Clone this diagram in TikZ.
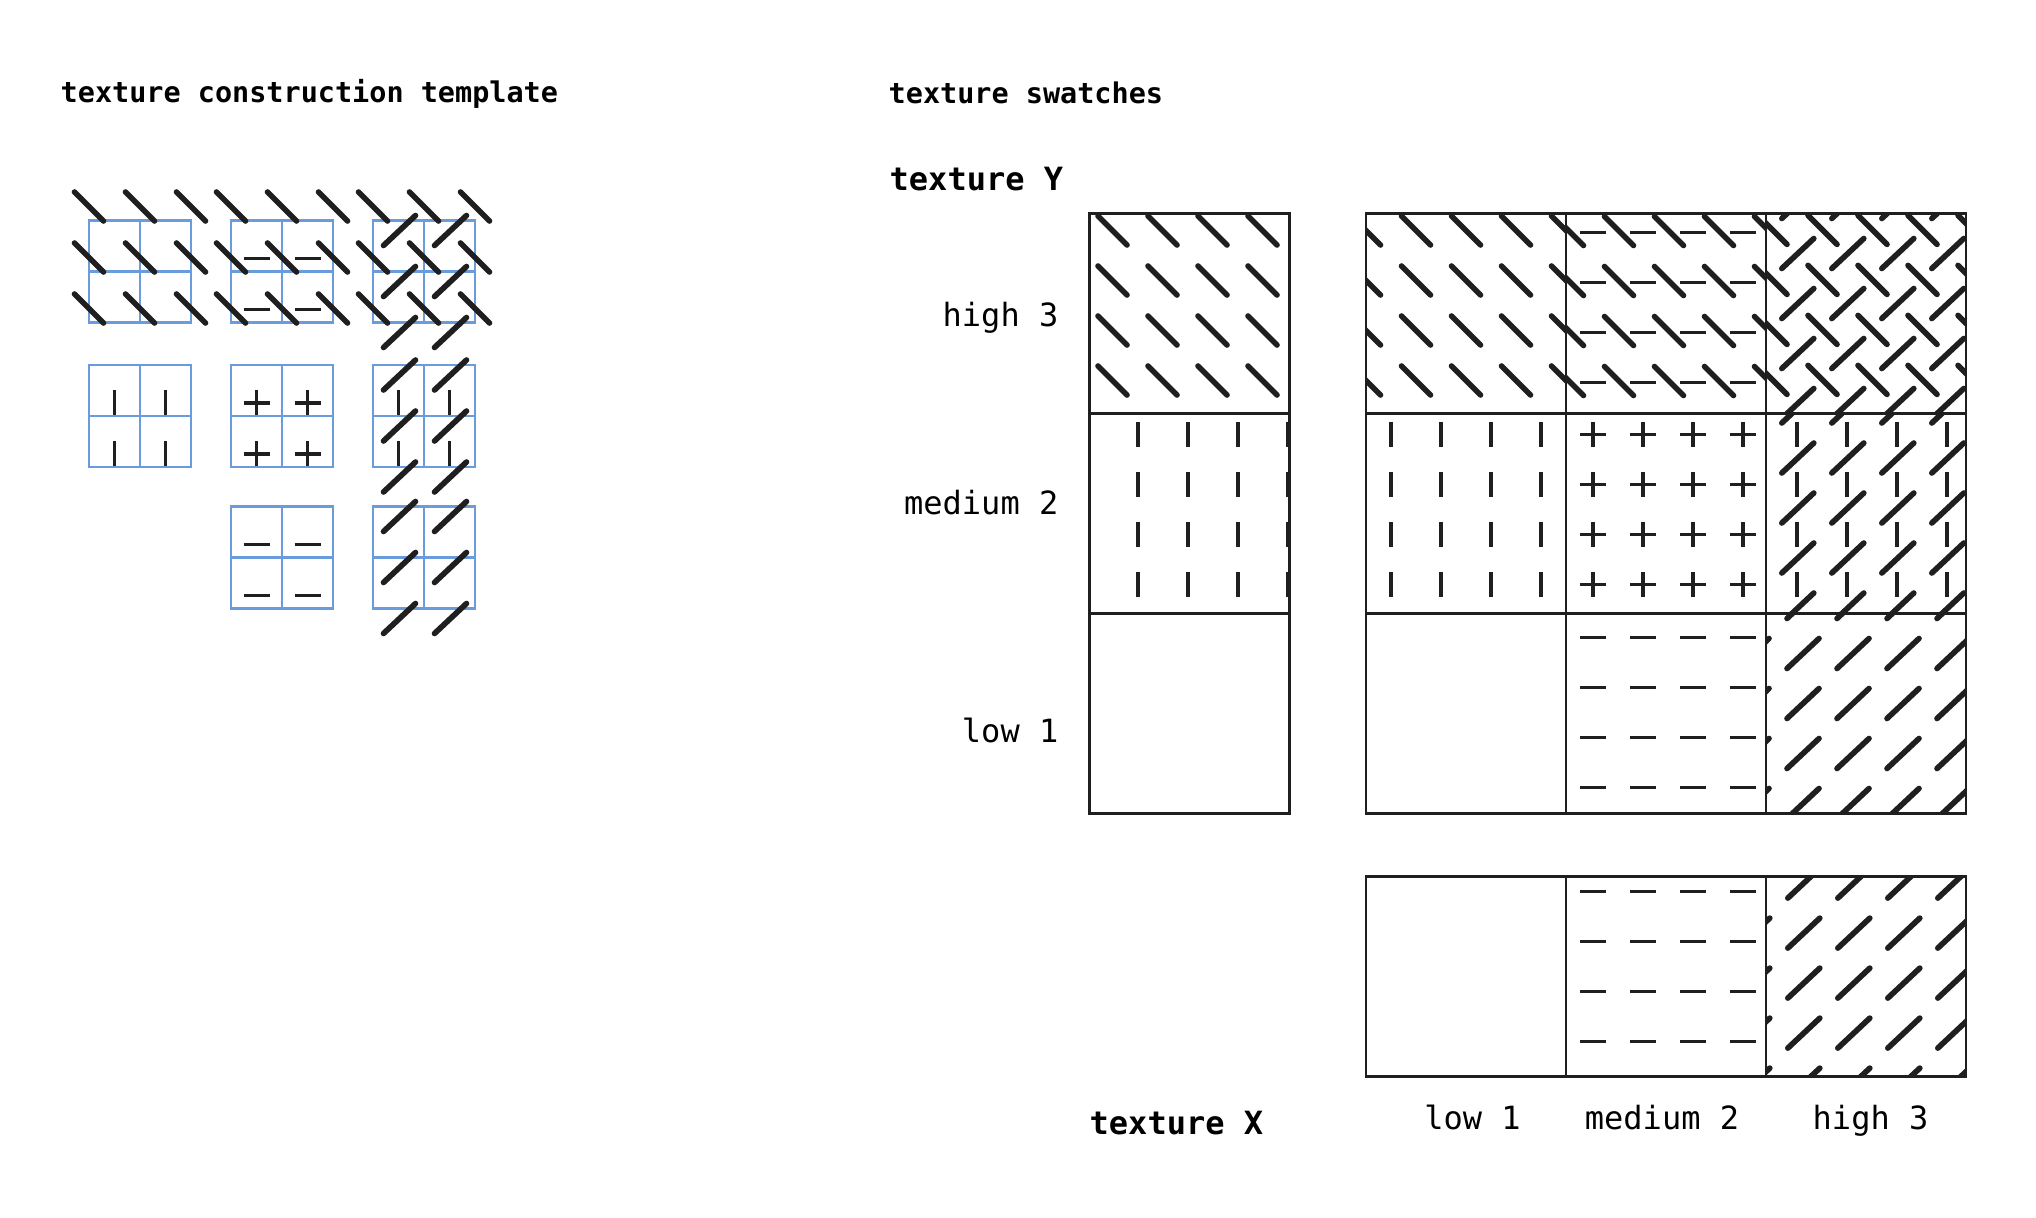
\documentclass[tikz,border=0pt]{standalone}
\usepackage{fontspec}
\setmainfont{DejaVu Sans Mono}
\usepackage{tikz}
\definecolor{ink}{HTML}{1F1F1F}
\definecolor{guide}{HTML}{6A9BDD}
\newcommand{\cw}{200}
\newcommand{\tw}{51}
\tikzset{
  hatch/.style={draw=ink,line width=1.6pt,line cap=round},
  tick/.style={draw=ink,line width=0.9pt},
  cellbox/.style={draw=ink,line width=0.6pt},
  guideline/.style={draw=guide,line width=0.75pt},
  heading/.style={font=\fontsize{8.1}{10}\selectfont\bfseries,anchor=base west,inner sep=0pt},
  axisname/.style={font=\fontsize{9.1}{11}\selectfont\bfseries,anchor=base west,inner sep=0pt},
  level/.style={font=\fontsize{9.1}{11}\selectfont,inner sep=0pt},
}
\newcommand{\motifback}[2]{\draw[hatch] (#1,#2) ++(-14.5,-14.5) -- ++(29,29);}
\newcommand{\motiffwd}[2]{\draw[hatch] (#1,#2) ++(-16,15) -- ++(32,-30);}
\newcommand{\motifvert}[2]{\draw[tick] (#1,#2) ++(0,-12.5) -- ++(0,25);}
\newcommand{\motifhoriz}[2]{\draw[tick] (#1,#2) ++(-13,0) -- ++(26,0);}
\newcommand{\swatch}[5]{%
  \begin{scope}
    \clip (#1,#2) rectangle ++(\cw,\cw);
    \foreach \i in {-1,...,4}{\foreach \j in {-1,...,4}{#3{#1+#4+50*\i}{#2+#5+50*\j}}}
  \end{scope}}
\newcommand{\guidegrid}[2]{\draw[guideline] (#1,#2) rectangle ++(2*\tw,2*\tw)
  (#1+\tw,#2) -- ++(0,2*\tw) (#1,#2+\tw) -- ++(2*\tw,0);}

\begin{document}
\begin{tikzpicture}[x=0.01cm,y=-0.01cm]
\useasboundingbox (0,0) rectangle (2036,1218);

\node[heading] (tmpltitle) at (60,102.7) {texture construction template};
\node[heading] (swtitle) at (888,103) {texture swatches};

\foreach \gx/\gy in {89/220.5,231/220.5,373/220.5,89/365,231/365,373/365,231/506.5,373/506.5}{
  \guidegrid{\gx}{\gy}
}
\foreach \gx in {89,231,373}{
  \foreach \i in {0,1,2}{\foreach \j in {0,1,2}{\motifback{\gx+\tw*\i}{220.5-14+\tw*\j}}}
}
\foreach \gx in {89,231,373}{
  \foreach \i in {0,1}{\foreach \j in {0,1}{\motifvert{\gx+25.5+\tw*\i}{365+37.5+\tw*\j}}}
}
\foreach \gy in {220.5,365,506.5}{
  \foreach \i in {0,1}{\foreach \j in {0,1}{\motifhoriz{231+25.5+\tw*\i}{\gy+38+\tw*\j}}}
  \foreach \i in {0,1}{\foreach \j in {0,1,2}{\motiffwd{373+26.5+\tw*\i}{\gy+10+\tw*\j}}}
}

\coordinate (ycol) at (1089.5,213.5);
\coordinate (grid) at (1366,213.5);
\coordinate (xrow) at (1366,876.5);

\swatch{1089.5}{213.5}{\motifback}{23}{17}
\swatch{1089.5}{413.5}{\motifvert}{48.5}{21}
\swatch{1366}{213.5}{\motifback}{0}{17}
\swatch{1566}{213.5}{\motifback}{3}{17.5}
\swatch{1566}{213.5}{\motifhoriz}{27}{19}
\swatch{1766}{213.5}{\motifback}{6.5}{16.4}
\swatch{1766}{213.5}{\motiffwd}{31.8}{40}
\swatch{1366}{413.5}{\motifvert}{25}{21}
\swatch{1566}{413.5}{\motifvert}{27}{21}
\swatch{1566}{413.5}{\motifhoriz}{27}{21}
\swatch{1766}{413.5}{\motifvert}{31}{21}
\swatch{1766}{413.5}{\motiffwd}{31.8}{44.5}
\swatch{1566}{613.5}{\motifhoriz}{27}{24.4}
\swatch{1766}{613.5}{\motiffwd}{37}{40}
\swatch{1566}{876.5}{\motifhoriz}{27}{15.2}
\swatch{1766}{876.5}{\motiffwd}{37.8}{6.6}

\draw[cellbox] (ycol) rectangle ++(\cw,3*\cw);
\draw[cellbox] (grid) rectangle ++(3*\cw,3*\cw);
\draw[cellbox] (xrow) rectangle ++(3*\cw,\cw);
\foreach \k in {1,2}{
  \draw[cellbox] (ycol) ++(0,\k*\cw) -- ++(\cw,0);
  \draw[cellbox] (grid) ++(0,\k*\cw) -- ++(3*\cw,0);
  \draw[cellbox] (grid) ++(\k*\cw,0) -- ++(0,3*\cw);
  \draw[cellbox] (xrow) ++(\k*\cw,0) -- ++(0,\cw);
}

\node[axisname] (ytitle) at (889,190.7) {texture Y};
\node[axisname] (xtitle) at (1089,1134.5) {texture X};
\node[level,anchor=base east] (yhigh) at (1059,326) {high 3};
\node[level,anchor=base east] (ymed) at (1059,514) {medium 2};
\node[level,anchor=base east] (ylow) at (1059,742) {low 1};
\node[level,anchor=base] (xlow) at (1472.5,1129) {low 1};
\node[level,anchor=base] (xmed) at (1662,1129) {medium 2};
\node[level,anchor=base] (xhigh) at (1870.5,1129) {high 3};
\end{tikzpicture}
\end{document}
